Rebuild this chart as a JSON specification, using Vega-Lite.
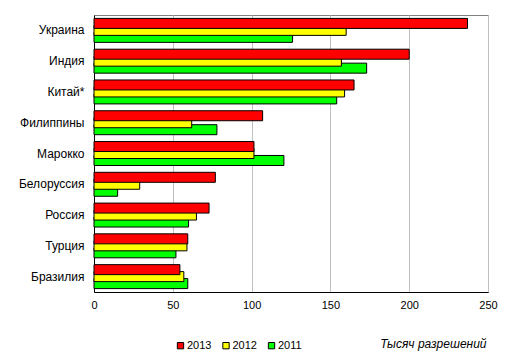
{
  "$schema": "https://vega.github.io/schema/vega-lite/v6.json",
  "width": 394,
  "height": 277,
  "autosize": {"type": "none"},
  "padding": {"left": 94, "top": 15, "right": 26, "bottom": 68},
  "background": "white",
  "config": {
    "font": "Liberation Sans",
    "view": {"stroke": "#808080", "strokeWidth": 1}
  },
  "data": {
    "values": [
      {"country": "Украина", "year": "2011", "value": 126},
      {"country": "Украина", "year": "2012", "value": 160},
      {"country": "Украина", "year": "2013", "value": 237},
      {"country": "Индия", "year": "2011", "value": 173},
      {"country": "Индия", "year": "2012", "value": 157},
      {"country": "Индия", "year": "2013", "value": 200},
      {"country": "Китай*", "year": "2011", "value": 154},
      {"country": "Китай*", "year": "2012", "value": 159},
      {"country": "Китай*", "year": "2013", "value": 165},
      {"country": "Филиппины", "year": "2011", "value": 78},
      {"country": "Филиппины", "year": "2012", "value": 62},
      {"country": "Филиппины", "year": "2013", "value": 107},
      {"country": "Марокко", "year": "2011", "value": 120.5},
      {"country": "Марокко", "year": "2012", "value": 101.5},
      {"country": "Марокко", "year": "2013", "value": 101.5},
      {"country": "Белоруссия", "year": "2011", "value": 15},
      {"country": "Белоруссия", "year": "2012", "value": 29},
      {"country": "Белоруссия", "year": "2013", "value": 77},
      {"country": "Россия", "year": "2011", "value": 60},
      {"country": "Россия", "year": "2012", "value": 65},
      {"country": "Россия", "year": "2013", "value": 73},
      {"country": "Турция", "year": "2011", "value": 52},
      {"country": "Турция", "year": "2012", "value": 59},
      {"country": "Турция", "year": "2013", "value": 59.5},
      {"country": "Бразилия", "year": "2011", "value": 59.5},
      {"country": "Бразилия", "year": "2012", "value": 57},
      {"country": "Бразилия", "year": "2013", "value": 54.5}
    ]
  },
  "mark": {"type": "bar", "stroke": "black", "strokeWidth": 1, "height": 10},
  "encoding": {
    "y": {
      "field": "country",
      "type": "nominal",
      "sort": null,
      "scale": {"paddingInner": 0.32, "paddingOuter": 0.16},
      "axis": {
        "title": null,
        "ticks": false,
        "labelPadding": 10,
        "labelFontSize": 12,
        "labelColor": "black",
        "domainColor": "black",
        "grid": false
      }
    },
    "yOffset": {
      "field": "year",
      "type": "nominal",
      "scale": {"domain": ["2013", "2012", "2011"], "paddingInner": 0, "paddingOuter": 0}
    },
    "x": {
      "field": "value",
      "type": "quantitative",
      "stack": null,
      "scale": {"domain": [0, 250], "nice": false},
      "axis": {
        "values": [0, 50, 100, 150, 200, 250],
        "ticks": false,
        "grid": true,
        "gridColor": "#c0c0c0",
        "domainColor": "black",
        "labelFontSize": 11,
        "labelColor": "black",
        "labelPadding": 7,
        "labelFlush": false,
        "title": "Тысяч разрешений",
        "titleFontStyle": "italic",
        "titleFontWeight": "normal",
        "titleFontSize": 12,
        "titleColor": "black",
        "titleAlign": "right",
        "titleAnchor": "end",
        "titleBaseline": "alphabetic",
        "titleX": 392,
        "titleY": 55
      }
    },
    "color": {
      "field": "year",
      "type": "nominal",
      "scale": {"domain": ["2013", "2012", "2011"], "range": ["#ff0000", "#ffff00", "#00ff00"]},
      "legend": {
        "title": null,
        "orient": "none",
        "direction": "horizontal",
        "legendX": 81,
        "legendY": 325,
        "symbolType": "square",
        "symbolSize": 40,
        "symbolStrokeColor": "black",
        "symbolStrokeWidth": 1,
        "labelFontSize": 11,
        "labelColor": "black",
        "labelOffset": 1,
        "columnPadding": 8.5
      }
    }
  }
}
